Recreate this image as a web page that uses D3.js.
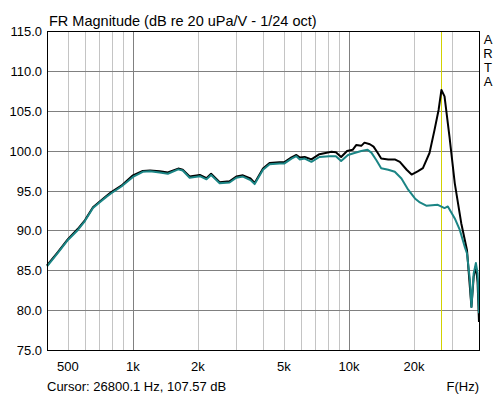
<!DOCTYPE html>
<html>
<head>
<meta charset="utf-8">
<script src="https://cdn.jsdelivr.net/npm/d3@7"></script>
<style>
  body { margin: 0; background: #fff; }
  svg { display: block; font-family: Arial, "Liberation Sans", sans-serif; }
</style>
</head>
<body>
<div id="chart"></div>
<script>
// Frequency response readings (Hz, dB) taken off the reference plot
const blackCurve = [
  [400, 85.6], [450, 87.3], [500, 88.9], [556, 90.2], [600, 91.3], [653, 92.9],
  [700, 93.6], [753, 94.3], [794, 94.8], [884, 95.6], [1000, 96.9], [1110, 97.45],
  [1200, 97.5], [1330, 97.4], [1450, 97.25], [1620, 97.75], [1700, 97.6], [1830, 96.75],
  [2040, 96.95], [2190, 96.55], [2300, 97.1], [2520, 96.05], [2800, 96.15], [3010, 96.75],
  [3230, 96.9], [3500, 96.5], [3660, 95.95], [4000, 97.75], [4290, 98.45], [4770, 98.55],
  [5030, 98.55], [5420, 99.15], [5710, 99.45], [5910, 99.15], [6240, 99.2], [6700, 98.9],
  [7300, 99.55], [8300, 99.85], [8700, 99.8], [9200, 99.2], [9800, 99.95], [10400, 100.1],
  [10800, 100.7], [11400, 100.6], [11800, 101.0], [12500, 100.8], [13000, 100.5], [13600, 99.7],
  [14100, 99.0], [15200, 98.9], [16300, 98.9], [17200, 98.6], [18500, 97.6], [19500, 97.0],
  [20800, 97.4], [22000, 97.8], [23600, 99.7], [24900, 102.6], [26000, 105.1], [26800, 107.6],
  [27700, 106.8], [29200, 101.75], [30900, 95.9], [33100, 90.9], [35200, 87.5], [36900, 80.4],
  [37800, 84.2], [38700, 85.5], [39400, 83.5], [40000, 78.5]
];

const tealCurve = [
  [400, 85.5], [450, 87.2], [500, 88.8], [556, 90.05], [600, 91.2], [653, 92.8],
  [700, 93.5], [753, 94.2], [794, 94.65], [884, 95.5], [1000, 96.7], [1110, 97.35],
  [1200, 97.4], [1330, 97.25], [1450, 97.1], [1620, 97.65], [1700, 97.5], [1830, 96.6],
  [2040, 96.8], [2190, 96.4], [2300, 96.95], [2520, 95.9], [2800, 96.0], [3010, 96.6],
  [3230, 96.75], [3500, 96.3], [3660, 95.8], [4000, 97.6], [4290, 98.3], [4770, 98.4],
  [5030, 98.4], [5420, 99.0], [5710, 99.3], [5910, 98.9], [6240, 99.0], [6700, 98.6],
  [7300, 99.2], [8100, 99.3], [8700, 99.3], [9200, 98.7], [9900, 99.45], [10600, 99.7],
  [11400, 99.95], [12200, 100.1], [12700, 99.75], [13400, 98.8], [14100, 97.8], [15200, 97.6],
  [16300, 97.35], [17500, 96.5], [18800, 95.1], [20200, 94.0], [21300, 93.5], [22800, 93.1],
  [25800, 93.2], [27700, 92.8], [28700, 93.0], [30900, 91.5], [32600, 90.05], [34300, 88.0],
  [35200, 87.1], [36300, 83.8], [36900, 80.4], [37800, 84.6], [38700, 85.9], [39400, 84.6],
  [40000, 79.6]
];

const yTicks = [75, 80, 85, 90, 95, 100, 105, 110, 115];
const xLabelTicks = [500, 1000, 2000, 5000, 10000, 20000];
const xGridTicks = [500, 600, 700, 800, 900, 1000, 2000, 3000, 4000, 5000, 6000, 7000, 8000, 9000, 10000, 20000, 30000];
const majorGrid = [1000, 10000];
const cursorFreq = 26800.1;
const cursorLevel = 107.57;

const W = 500, H = 398;
const margin = { top: 31, right: 21, bottom: 48, left: 47 };
const width = W - margin.left - margin.right;
const height = H - margin.top - margin.bottom;

const svg = d3.select('#chart')
  .append('svg')
  .attr('width', W)
  .attr('height', H);

const g = svg.append('g')
  .attr('transform', `translate(${margin.left},${margin.top})`);

const x = d3.scaleLog().domain([400, 40000]).range([0, width]);
const y = d3.scaleLinear().domain([75, 115]).range([height, 0]);

// vertical grid
g.selectAll('.vgrid')
  .data(xGridTicks)
  .join('line')
  .attr('x1', d => Math.round(x(d)) + 0.5)
  .attr('x2', d => Math.round(x(d)) + 0.5)
  .attr('y1', 0)
  .attr('y2', height)
  .attr('stroke', d => majorGrid.includes(d) ? '#808080' : '#c4c4c4')
  .attr('stroke-width', 1);

// horizontal grid
g.selectAll('.hgrid')
  .data(yTicks)
  .join('line')
  .attr('x1', 0)
  .attr('x2', width)
  .attr('y1', d => Math.round(y(d)) + 0.5)
  .attr('y2', d => Math.round(y(d)) + 0.5)
  .attr('stroke', '#808080')
  .attr('stroke-width', 1);

// cursor line
g.append('line')
  .attr('x1', Math.round(x(cursorFreq)) + 0.5)
  .attr('x2', Math.round(x(cursorFreq)) + 0.5)
  .attr('y1', 0)
  .attr('y2', height)
  .attr('stroke', '#d2d200')
  .attr('stroke-width', 1);

const line = d3.line()
  .x(d => x(d[0]))
  .y(d => y(d[1]));

g.append('path')
  .datum(blackCurve)
  .attr('fill', 'none')
  .attr('stroke', '#000')
  .attr('stroke-width', 2)
  .attr('stroke-linejoin', 'round')
  .attr('d', line);

g.append('path')
  .datum(tealCurve)
  .attr('fill', 'none')
  .attr('stroke', '#1b8585')
  .attr('stroke-width', 2)
  .attr('stroke-linejoin', 'round')
  .attr('d', line);

// frame
g.append('rect')
  .attr('x', 0.5)
  .attr('y', 0.5)
  .attr('width', width)
  .attr('height', height)
  .attr('fill', 'none')
  .attr('stroke', '#000')
  .attr('stroke-width', 1);

// y axis labels
g.selectAll('.ylab')
  .data(yTicks)
  .join('text')
  .attr('x', -5)
  .attr('y', d => y(d) + 5)
  .attr('text-anchor', 'end')
  .attr('font-size', '13px')
  .attr('fill', '#000')
  .text(d => d.toFixed(1));

// x axis labels
const fmtHz = d => d >= 1000 ? `${d / 1000}k` : `${d}`;
g.selectAll('.xlab')
  .data(xLabelTicks)
  .join('text')
  .attr('x', d => x(d))
  .attr('y', height + 21)
  .attr('text-anchor', 'middle')
  .attr('font-size', '13px')
  .attr('fill', '#000')
  .text(fmtHz);

svg.append('text')
  .attr('x', 49)
  .attr('y', 26)
  .attr('font-size', '14.5px')
  .attr('fill', '#000')
  .text('FR Magnitude (dB re 20 uPa/V - 1/24 oct)');

svg.append('text')
  .attr('x', 47)
  .attr('y', 391)
  .attr('font-size', '13px')
  .attr('fill', '#000')
  .text(`Cursor: ${cursorFreq} Hz, ${cursorLevel} dB`);

svg.append('text')
  .attr('x', 479)
  .attr('y', 391)
  .attr('text-anchor', 'end')
  .attr('font-size', '13px')
  .attr('fill', '#000')
  .text('F(Hz)');

// vertical "ARTA" mark on the right edge
svg.append('text')
  .attr('x', 488)
  .attr('y', 32)
  .attr('font-size', '13px')
  .attr('fill', '#000')
  .style('writing-mode', 'vertical-rl')
  .style('text-orientation', 'upright')
  .style('letter-spacing', '-1px')
  .text('ARTA');
</script>
</body>
</html>
